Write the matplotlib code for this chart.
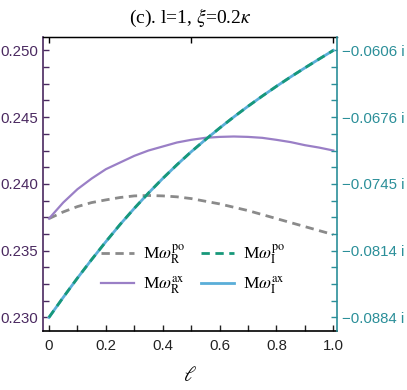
import numpy as np
import matplotlib
matplotlib.use("Agg")
import matplotlib.pyplot as plt
from matplotlib.ticker import FixedLocator, MultipleLocator

plt.rcParams['font.family'] = ['Liberation Sans', 'DejaVu Sans']
plt.rcParams['mathtext.fontset'] = 'stix'

# data
ell = [0.00, 0.05, 0.10, 0.15, 0.20, 0.25, 0.30, 0.35, 0.40, 0.45, 0.50,
       0.55, 0.60, 0.65, 0.70, 0.75, 0.80, 0.85, 0.90, 0.95, 1.00]
re_po = [0.2374, 0.2379, 0.2383, 0.2386, 0.2388, 0.23898, 0.2391, 0.23913,
         0.2391, 0.23903, 0.2389, 0.2387, 0.2385, 0.23825, 0.2380, 0.2377,
         0.2374, 0.2371, 0.2368, 0.2365, 0.2362]
re_ax = [0.2374, 0.2386, 0.2396, 0.2404, 0.2411, 0.2416, 0.2421, 0.2425,
         0.2428, 0.2431, 0.2433, 0.24345, 0.24352, 0.24355, 0.24352, 0.24345,
         0.2433, 0.24313, 0.2429, 0.24272, 0.2425]
im_po = [-0.0884, -0.08632, -0.08431, -0.08238, -0.08052, -0.07873, -0.07705,
         -0.07545, -0.07394, -0.07251, -0.07116, -0.06990, -0.06869, -0.06753,
         -0.06642, -0.06536, -0.06434, -0.06336, -0.06242, -0.06150, -0.0606]
im_ax = list(im_po)

left_ticks = [0.230, 0.235, 0.240, 0.245, 0.250]
right_labels = ["\u22120.0884 i", "\u22120.0814 i", "\u22120.0745 i",
                "\u22120.0676 i", "\u22120.0606 i"]

# right axis is a linear rescale of the left one
scale = (0.0884 - 0.0606) / (0.250 - 0.230)
def to_im(v):
    return -0.0606 + scale * (v - 0.250)

purple_dark = "#4a2960"
teal = "#2b8f99"

fig = plt.figure(figsize=(4.07, 3.90), dpi=100)
ax = fig.add_axes([0.1064, 0.152, 0.7223, 0.753])
ax2 = ax.twinx()

l1, = ax.plot(ell, re_po, color="#8a8a8a", lw=2.0, ls=(0, (3, 2)), zorder=3)
l2, = ax.plot(ell, re_ax, color="#9a7fc6", lw=1.6, zorder=3)
l4, = ax2.plot(ell, im_ax, color="#5aaed8", lw=2.0)
l3, = ax2.plot(ell, im_po, color="#17987a", lw=2.0, ls=(0, (3, 2)))

ylo, yhi = 0.2290, 0.2510
ax.set_ylim(ylo, yhi)
ax2.set_ylim(to_im(ylo), to_im(yhi))
ax.set_xlim(-0.02, 1.014)

ax.set_yticks(left_ticks)
ax.set_yticklabels(["%.3f" % v for v in left_ticks])
ax.yaxis.set_minor_locator(MultipleLocator(0.00125))
ax2.yaxis.set_major_locator(FixedLocator([to_im(v) for v in left_ticks]))
ax2.set_yticklabels(right_labels)
ax2.yaxis.set_minor_locator(FixedLocator(
    [to_im(v) for v in np.arange(0.230, 0.2501, 0.00125)]))

ax.set_xticks([0, 0.2, 0.4, 0.6, 0.8, 1.0])
ax.set_xticklabels(["0", "0.2", "0.4", "0.6", "0.8", "1.0"])
ax.xaxis.set_minor_locator(MultipleLocator(0.1))

top = ax.secondary_xaxis('top')
top.set_xticks([0, 0.5, 1.0])
top.set_xticklabels([])
top.tick_params(direction='in', length=4, width=1)

ax.tick_params(axis='x', which='both', direction='in', length=4, width=1,
               labelsize=10.8, colors='#222222', pad=6)
ax.tick_params(axis='y', which='both', direction='in', length=4, width=1,
               labelsize=10.8, colors=purple_dark, labelcolor=purple_dark)
ax2.tick_params(axis='y', which='both', direction='in', length=4, width=1,
                labelsize=10.8, colors=teal, labelcolor=teal)

for s in ['top', 'right', 'left', 'bottom']:
    ax2.spines[s].set_visible(False)
ax2.spines['right'].set_visible(True)
ax2.spines['right'].set_color(teal)
ax2.spines['right'].set_linewidth(1.2)
ax.spines['left'].set_color(purple_dark)
ax.spines['left'].set_linewidth(1.2)
ax.spines['right'].set_visible(False)
ax.spines['bottom'].set_linewidth(1.2)
ax.spines['top'].set_linewidth(1.0)

ax.set_xlabel(r"$\ell$", fontsize=15, labelpad=9)
ax.set_title(r"(c). l=1, $\xi$=0.2$\kappa$", fontsize=14,
             family='Liberation Serif', pad=10)

leg = ax2.legend([l1, l2, l3, l4],
                 [r"M$\omega_\mathrm{R}^\mathrm{po}$", r"M$\omega_\mathrm{R}^\mathrm{ax}$",
                  r"M$\omega_\mathrm{I}^\mathrm{po}$", r"M$\omega_\mathrm{I}^\mathrm{ax}$"],
                 ncol=2, frameon=False, loc='center', bbox_to_anchor=(0.51, 0.21),
                 handlelength=1.9, columnspacing=0.9,
                 handletextpad=0.5, labelspacing=0.5,
                 prop={'family': 'Liberation Serif', 'size': 12.5})

fig.savefig("out.png", dpi=100)
